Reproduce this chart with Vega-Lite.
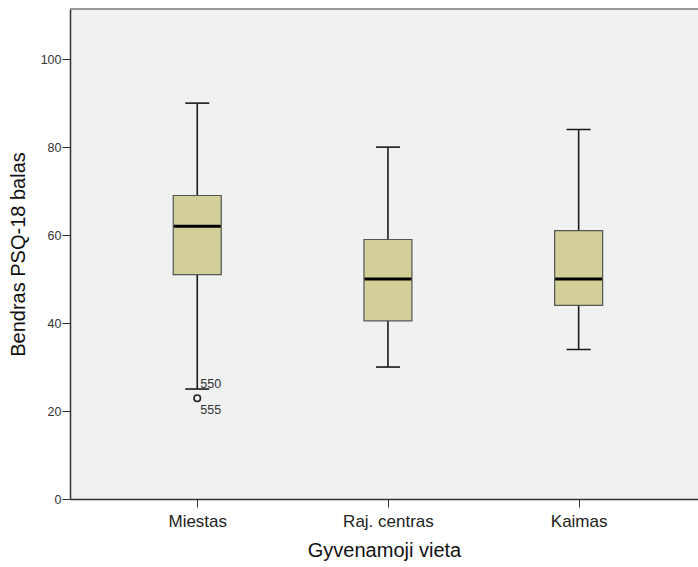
{
  "$schema": "https://vega.github.io/schema/vega-lite/v6.json",
  "autosize": {"type": "none"},
  "padding": {"left": 70, "top": 9, "right": 0, "bottom": 68},
  "width": 628,
  "height": 490,
  "background": "#ffffff",
  "config": {
    "view": {"stroke": null, "fill": "#F0F1F1"},
    "font": "Liberation Sans"
  },
  "datasets": {
    "boxes": [
      {"cat": "Miestas", "lo": 25, "q1": 51, "med": 62, "q3": 69, "hi": 90},
      {"cat": "Raj. centras", "lo": 30, "q1": 40.5, "med": 50, "q3": 59, "hi": 80},
      {"cat": "Kaimas", "lo": 34, "q1": 44, "med": 50, "q3": 61, "hi": 84}
    ],
    "outliers": [
      {"cat": "Miestas", "v": 22.9}
    ],
    "labels": [
      {"cat": "Miestas", "v": 26.2, "label": "550"},
      {"cat": "Miestas", "v": 20.3, "label": "555"}
    ]
  },
  "layer": [
    {
      "data": {"values": [{"top": 111.4}]},
      "mark": {"type": "rule", "color": "#7a7a7a", "strokeWidth": 1.5},
      "encoding": {
        "y": {"field": "top", "type": "quantitative", "scale": {"domain": [0, 111.4], "nice": false, "zero": true}}
      }
    },
    {
      "data": {"name": "boxes"},
      "mark": {"type": "rule", "color": "#1a1a1a", "strokeWidth": 1.6},
      "encoding": {
        "x": {"field": "cat", "type": "nominal", "sort": null,
              "scale": {"type": "point", "padding": 0.6466, "align": 0.516},
              "axis": {"title": "Gyvenamoji vieta", "labelAngle": 0, "labelFontSize": 17, "labelColor": "#222",
                       "labelPadding": 6, "tickSize": 8, "tickColor": "#333", "domainColor": "#333", "domainWidth": 1.5,
                       "titleFontSize": 20, "titleFontWeight": "normal", "titleColor": "#111", "titlePadding": 11}},
        "y": {"field": "lo", "type": "quantitative",
              "scale": {"domain": [0, 111.4], "nice": false},
              "axis": {"title": "Bendras PSQ-18 balas", "values": [0, 20, 40, 60, 80, 100], "grid": false,
                       "labelFontSize": 12.5, "labelColor": "#333", "labelPadding": 1, "tickSize": 8, "tickColor": "#333",
                       "domainColor": "#333", "domainWidth": 1.5,
                       "titleFontSize": 20, "titleFontWeight": "normal", "titleColor": "#111", "titlePadding": 12}},
        "y2": {"field": "hi"}
      }
    },
    {
      "data": {"name": "boxes"},
      "mark": {"type": "bar", "size": 48, "fill": "#D3CF98", "stroke": "#555", "strokeWidth": 1.2, "opacity": 1},
      "encoding": {
        "x": {"field": "cat", "type": "nominal", "sort": null},
        "y": {"field": "q1", "type": "quantitative"},
        "y2": {"field": "q3"}
      }
    },
    {
      "data": {"name": "boxes"},
      "mark": {"type": "tick", "size": 47, "thickness": 3, "color": "#000", "opacity": 1},
      "encoding": {
        "x": {"field": "cat", "type": "nominal", "sort": null},
        "y": {"field": "med", "type": "quantitative"}
      }
    },
    {
      "data": {"name": "boxes"},
      "mark": {"type": "tick", "size": 24, "thickness": 1.6, "color": "#1a1a1a", "opacity": 1},
      "encoding": {
        "x": {"field": "cat", "type": "nominal", "sort": null},
        "y": {"field": "hi", "type": "quantitative"}
      }
    },
    {
      "data": {"name": "boxes"},
      "mark": {"type": "tick", "size": 24, "thickness": 1.6, "color": "#1a1a1a", "opacity": 1},
      "encoding": {
        "x": {"field": "cat", "type": "nominal", "sort": null},
        "y": {"field": "lo", "type": "quantitative"}
      }
    },
    {
      "data": {"name": "outliers"},
      "mark": {"type": "point", "shape": "circle", "size": 42, "filled": false, "stroke": "#222", "strokeWidth": 1.6, "opacity": 1},
      "encoding": {
        "x": {"field": "cat", "type": "nominal", "sort": null},
        "y": {"field": "v", "type": "quantitative"}
      }
    },
    {
      "data": {"name": "labels"},
      "mark": {"type": "text", "align": "left", "baseline": "middle", "dx": 3, "fontSize": 12.5, "color": "#333"},
      "encoding": {
        "x": {"field": "cat", "type": "nominal", "sort": null},
        "y": {"field": "v", "type": "quantitative"},
        "text": {"field": "label"}
      }
    }
  ]
}
